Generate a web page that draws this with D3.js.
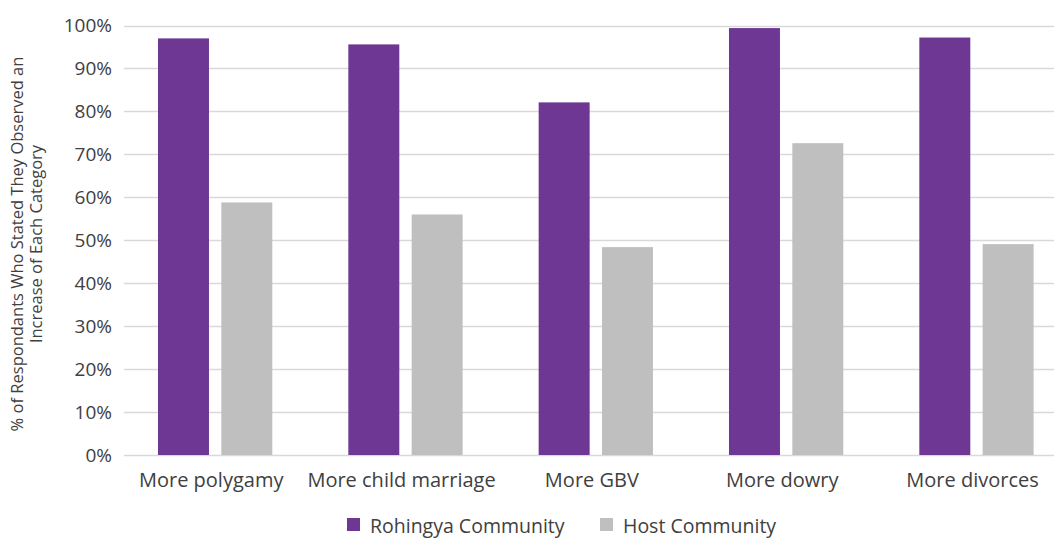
<!DOCTYPE html>
<html><head><meta charset="utf-8">
<script src="https://cdn.jsdelivr.net/npm/d3@7"></script>
<style>body{margin:0;background:#fff;} svg{display:block;} text{font-family:"Open Sans",sans-serif;fill:#404040;}</style>
</head><body><svg id="c" width="1054" height="539"></svg>
<script>
const categories = ["More polygamy","More child marriage","More GBV","More dowry","More divorces"];
const seriesNames = ["Rohingya Community","Host Community"];
const rohingya = [97.0, 95.6, 82.1, 99.4, 97.2];
const host = [58.8, 56.0, 48.4, 72.6, 49.1];
const yTicks = [0,10,20,30,40,50,60,70,80,90,100];
const colors = ["#6E3793","#BFBFBF"];

const svg = d3.select("#c");
const x0 = d3.scaleBand().domain(categories).range([120, 120 + 5*190.33]).padding(0);
const x1 = d3.scaleBand().domain(seriesNames).range([38, 152.3]).paddingInner(0.195).paddingOuter(0);
const y = d3.scaleLinear().domain([0,100]).range([455, 25.5]);

// gridlines
svg.append("g").selectAll("line").data(yTicks).join("line")
  .attr("x1", 124).attr("x2", 1054)
  .attr("y1", d => Math.round(y(d))+0.5).attr("y2", d => Math.round(y(d))+0.5)
  .attr("stroke", "#d9d9d9").attr("stroke-width", 1.3);

// y axis labels
const yAxis = d3.axisLeft(y).tickValues(yTicks).tickFormat(d => d + "%").tickSize(0).tickPadding(0);
const ga = svg.append("g").attr("transform","translate(112,0)").call(yAxis);
ga.select(".domain").remove();
ga.selectAll("text").style("font-size","19px").attr("fill","#404040").style("font-family","'Open Sans',sans-serif");

// bars
const data = categories.map((c,i) => ({cat:c, vals:[{s:seriesNames[0], v:rohingya[i]},{s:seriesNames[1], v:host[i]}]}));
const groups = svg.append("g").selectAll("g").data(data).join("g")
  .attr("transform", d => `translate(${x0(d.cat)},0)`);
groups.selectAll("rect").data(d => d.vals).join("rect")
  .attr("x", d => x1(d.s)).attr("width", x1.bandwidth())
  .attr("y", d => y(d.v)).attr("height", d => y(0) - y(d.v))
  .attr("fill", (d,i) => colors[i]);

// category labels
const xAxis = d3.axisBottom(x0).tickSize(0).tickPadding(0);
const gx = svg.append("g").attr("transform","translate(0,455)").call(xAxis);
gx.select(".domain").remove();
gx.selectAll(".tick").attr("transform", d => `translate(${x0(d) + 95.2 - 4},0)`);
gx.selectAll("text").attr("y", 32).attr("dy", null).style("font-size","20px").attr("fill","#404040").style("font-family","'Open Sans',sans-serif");

// y title
const yt = svg.append("text").attr("transform","translate(0,244) rotate(-90)").attr("text-anchor","middle").style("font-size","16.5px");
yt.append("tspan").attr("x",0).attr("y",23).text("% of Respondants Who Stated They Observed an");
yt.append("tspan").attr("x",0).attr("y",42).text("Increase of Each Category");

// legend
const legX = [347, 600];
const lg = svg.append("g").selectAll("g").data(seriesNames).join("g")
  .attr("transform", (d,i) => `translate(${legX[i]},518)`);
lg.append("rect").attr("width",13).attr("height",13).attr("fill",(d,i)=>colors[i]);
lg.append("text").attr("x",23).attr("y",14.5).style("font-size","19.5px").text(d => d);
</script></body></html>
